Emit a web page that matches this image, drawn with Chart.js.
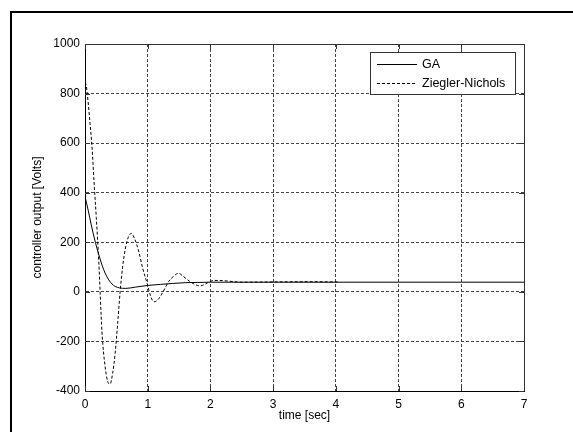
<!DOCTYPE html>
<html>
<head>
<meta charset="utf-8">
<title>controller output</title>
<script src="https://cdn.jsdelivr.net/npm/chart.js@4.4.0/dist/chart.umd.min.js"></script>
<style>
  html, body { margin: 0; padding: 0; background: #fff; overflow: hidden; }
  #wrap { position: relative; width: 573px; height: 432px; overflow: hidden; }
  #frame { position: absolute; left: 10px; top: 11px; width: 900px; height: 800px; border: 2px solid #000; box-sizing: border-box; pointer-events: none; }
  canvas { position: absolute; left: 0; top: 0; }
</style>
</head>
<body>
<div id="wrap">
  <canvas id="controller-output-chart" width="573" height="432"></canvas>
  <div id="frame"></div>
</div>
<script>
// values

const gaTime = [0, 0.05, 0.1, 0.165, 0.22, 0.27, 0.32, 0.38, 0.43, 0.48, 0.55, 0.65, 0.8, 1.0, 1.2, 1.4, 1.6, 1.8, 2.0, 3.0, 4.0, 5.0, 6.0, 7.0]
const gaVolts = [385, 330, 270, 200, 150, 109, 76, 48, 32, 22, 16, 14, 19, 26, 30, 34, 37, 38, 39, 39, 39, 39, 39, 39]

const znTime = [0, 0.01, 0.04, 0.08, 0.11, 0.15, 0.18, 0.22, 0.27, 0.32, 0.36, 0.40, 0.44, 0.48, 0.52, 0.56, 0.60, 0.64, 0.69, 0.74, 0.79, 0.855, 0.92, 0.99, 1.05, 1.10, 1.15, 1.20, 1.27, 1.335, 1.41, 1.49, 1.57, 1.67, 1.75, 1.83, 1.91, 1.99, 2.07, 2.15, 2.3, 2.5, 3.0, 3.5, 4.05]
const znVolts = [835, 840, 790, 680, 590, 420, 300, 120, -160, -300, -360, -372, -330, -250, -130, 0, 100, 170, 220, 236, 215, 165, 95, 35, -20, -40, -35, -19, 12, 42, 62, 75, 62, 42, 30, 24, 30, 42, 46, 46, 43, 39, 40, 41, 40]

const xTicks = [0, 1, 2, 3, 4, 5, 6, 7]
const yTicks = [-400, -200, 0, 200, 400, 600, 800, 1000]

const toPoints = function(xs, ys) {
    return xs.map(function(x, i) { return {x: x, y: ys[i]} })
}

Chart.defaults.font.family = "'Liberation Sans', Arial, sans-serif"
Chart.defaults.font.size = 12
Chart.defaults.color = "#000"

// top/right box lines and the little inward ticks, like matlab axes
const axesBox = {
    id: "axesBox",
    afterDatasetsDraw(chart) {
        const ctx = chart.ctx
        const a = chart.chartArea
        const xs = chart.scales.x
        const ys = chart.scales.y
        ctx.save()
        ctx.strokeStyle = "#333"
        ctx.lineWidth = 1
        ctx.beginPath()
        ctx.moveTo(a.left, a.top + 0.5)
        ctx.lineTo(a.right + 0.5, a.top + 0.5)
        ctx.lineTo(a.right + 0.5, a.bottom)
        ctx.stroke()
        ctx.beginPath()
        xTicks.forEach(function(t) {
            const px = Math.round(xs.getPixelForValue(t)) + 0.5
            ctx.moveTo(px, a.bottom); ctx.lineTo(px, a.bottom - 5)
            ctx.moveTo(px, a.top); ctx.lineTo(px, a.top + 5)
        })
        yTicks.forEach(function(v) {
            const py = Math.round(ys.getPixelForValue(v)) + 0.5
            ctx.moveTo(a.left, py); ctx.lineTo(a.left + 5, py)
            ctx.moveTo(a.right, py); ctx.lineTo(a.right - 5, py)
        })
        ctx.stroke()
        ctx.restore()
    }
}

// boxed legend in the upper right corner
const boxLegend = {
    id: "boxLegend",
    afterDraw(chart) {
        const ctx = chart.ctx
        const a = chart.chartArea
        const w = 145, h = 42
        const left = a.right - 9 - w
        const top = a.top + 8
        ctx.save()
        ctx.fillStyle = "#fff"
        ctx.fillRect(left, top, w, h)
        ctx.strokeStyle = "#333"
        ctx.lineWidth = 1
        ctx.strokeRect(left + 0.5, top + 0.5, w, h)
        ctx.font = "12.5px 'Liberation Sans', Arial, sans-serif"
        ctx.textBaseline = "middle"
        chart.data.datasets.forEach(function(ds, i) {
            const y = Math.round(top + 11.5 + i * 19.5) + 0.5
            ctx.strokeStyle = ds.borderColor
            ctx.setLineDash(ds.borderDash || [])
            ctx.beginPath()
            ctx.moveTo(left + 7, y)
            ctx.lineTo(left + 47, y)
            ctx.stroke()
            ctx.fillStyle = "#000"
            ctx.fillText(ds.label, left + 52, y)
        })
        ctx.restore()
    }
}

new Chart("controller-output-chart", {
    type: "line",
    data: {
        datasets: [
            {
                label: "GA",
                data: toPoints(gaTime, gaVolts),
                borderColor: "#000",
                borderWidth: 1,
                pointRadius: 0,
                cubicInterpolationMode: "monotone"
            },
            {
                label: "Ziegler-Nichols",
                data: toPoints(znTime, znVolts),
                borderColor: "#000",
                borderWidth: 1,
                borderDash: [3, 2],
                pointRadius: 0,
                cubicInterpolationMode: "monotone"
            }
        ]
    },
    options: {
        responsive: false,
        animation: false,
        devicePixelRatio: 1,
        layout: { padding: { left: 0, top: 44, right: 49, bottom: 0 } },
        plugins: {
            legend: { display: false },
            tooltip: { enabled: false }
        },
        scales: {
            x: {
                type: "linear",
                min: 0,
                max: 7,
                afterFit: function(scale) { scale.height = 41 },
                afterBuildTicks: function(scale) { scale.ticks = xTicks.map(function(v) { return {value: v} }) },
                ticks: { padding: 6, color: "#000", callback: function(v) { return String(v) } },
                grid: { color: "#444", drawTicks: false },
                border: { color: "#000", dash: [3, 2] },
                title: { display: true, text: "time [sec]", color: "#000", padding: { top: 0, bottom: 9 } }
            },
            y: {
                min: -400,
                max: 1000,
                afterFit: function(scale) { scale.width = 85 },
                afterBuildTicks: function(scale) { scale.ticks = yTicks.map(function(v) { return {value: v} }) },
                ticks: { padding: 5, color: "#000", callback: function(v) { return String(v) } },
                grid: { color: "#444", drawTicks: false },
                border: { color: "#000", dash: [3, 2] },
                title: { display: true, text: "controller output [Volts]", color: "#000", padding: { top: 30, bottom: 0 } }
            }
        }
    },
    plugins: [axesBox, boxLegend]
});
</script>
</body>
</html>
